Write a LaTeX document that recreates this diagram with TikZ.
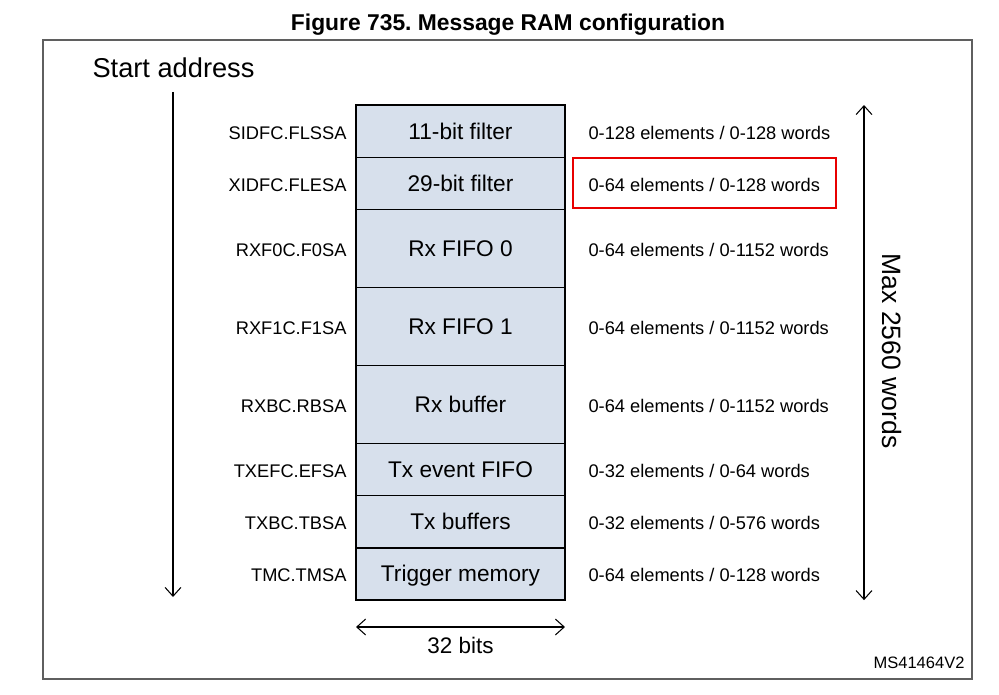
\documentclass[tikz,border=0pt]{standalone}
\usepackage{fontspec}
\setmainfont{Liberation Sans}
\frenchspacing
\usetikzlibrary{arrows.meta,positioning,fit}
\definecolor{ink}{RGB}{0,0,0}
\definecolor{framegray}{RGB}{95,95,95}
\definecolor{ramfill}{RGB}{215,224,236}
\definecolor{hilitered}{RGB}{232,0,0}
\tikzset{
  every picture/.style={color=ink, line width=0.6pt},
  cell/.style={draw=ink, fill=ramfill, line width=0.8pt, minimum width=4.18cm, minimum height=1.045cm, inner sep=0pt, outer sep=0pt, text height=0.9em, text depth=0em, font=\fontsize{12.9}{15}\selectfont},
  tall/.style={cell, minimum height=1.56cm},
  addr/.style={font=\fontsize{10.4}{12}\selectfont, inner sep=0pt, text height=0.9em, text depth=0em},
  span/.style={font=\fontsize{10.4}{12}\selectfont, inner sep=0pt, text height=0.9em, text depth=0em},
  hilite/.style={draw=hilitered, line width=1.2pt, inner xsep=0.3cm, inner ysep=0pt, minimum height=1cm},
  down/.style={-{Straight Barb[length=5pt,width=9pt]}, line width=0.6pt},
  dim/.style={{Straight Barb[length=5pt,width=9pt]}-{Straight Barb[length=5pt,width=9pt]}, line width=0.6pt},
}

\begin{document}
\begin{tikzpicture}[x=0.02cm, y=-0.02cm]
  \useasboundingbox (0,0) rectangle (999,695);
  \node[font=\bfseries\fontsize{13}{15}\selectfont] (title) at (508,25) {Figure 735. Message RAM configuration};
  \draw[framegray, line width=0.8pt] (43,40) rectangle (972,679);
  % message RAM sections
  \node[cell, anchor=north] (m1) at (460.5,105) {11-bit filter};
  \node[cell, below=0pt of m1] (m2) {29-bit filter};
  \node[tall, below=0pt of m2] (m3) {Rx FIFO 0};
  \node[tall, below=0pt of m3] (m4) {Rx FIFO 1};
  \node[tall, below=0pt of m4] (m5) {Rx buffer};
  \node[cell, below=0pt of m5] (m6) {Tx event FIFO};
  \node[cell, below=0pt of m6] (m7) {Tx buffers};
  \node[cell, below=0pt of m7] (m8) {Trigger memory};
  % start address registers
  \node[addr, left=1.8mm of m1] (a1) {SIDFC.FLSSA};
  \node[addr, left=1.8mm of m2] (a2) {XIDFC.FLESA};
  \node[addr, left=1.8mm of m3] (a3) {RXF0C.F0SA};
  \node[addr, left=1.8mm of m4] (a4) {RXF1C.F1SA};
  \node[addr, left=1.8mm of m5] (a5) {RXBC.RBSA};
  \node[addr, left=1.8mm of m6] (a6) {TXEFC.EFSA};
  \node[addr, left=1.8mm of m7] (a7) {TXBC.TBSA};
  \node[addr, left=1.8mm of m8] (a8) {TMC.TMSA};
  % sizes
  \node[span, right=4.6mm of m1] (s1) {0-128 elements / 0-128 words};
  \node[span, right=4.6mm of m2] (s2) {0-64 elements / 0-128 words};
  \node[span, right=4.6mm of m3] (s3) {0-64 elements / 0-1152 words};
  \node[span, right=4.6mm of m4] (s4) {0-64 elements / 0-1152 words};
  \node[span, right=4.6mm of m5] (s5) {0-64 elements / 0-1152 words};
  \node[span, right=4.6mm of m6] (s6) {0-32 elements / 0-64 words};
  \node[span, right=4.6mm of m7] (s7) {0-32 elements / 0-576 words};
  \node[span, right=4.6mm of m8] (s8) {0-64 elements / 0-128 words};
  \node[hilite, fit=(s2)] (mark2) {};
  % address direction
  \node[font=\fontsize{15.5}{18}\selectfont, inner sep=0pt] (start) at (173.5,68) {Start address};
  \coordinate (atop) at (173,92);
  \coordinate (abot) at (173,597);
  \draw[down] (atop) -- (abot);
  % total size
  \coordinate (wx) at (864,0);
  \draw[dim] (m1.north -| wx) -- (m8.south -| wx);
  \node[rotate=-90, font=\fontsize{15.1}{18}\selectfont, inner sep=0pt] (maxw) at (892,351) {Max 2560 words};
  % word width
  \coordinate (bw) at (0,627);
  \draw[dim] (m8.south west |- bw) -- (m8.south east |- bw);
  \node[font=\fontsize{12.8}{15}\selectfont, inner sep=0pt] (bits) at (460.5,645) {32 bits};
  \node[font=\fontsize{9.4}{11}\selectfont, anchor=east, inner sep=0pt] (docid) at (965,663) {MS41464V2};
\end{tikzpicture}
\end{document}
